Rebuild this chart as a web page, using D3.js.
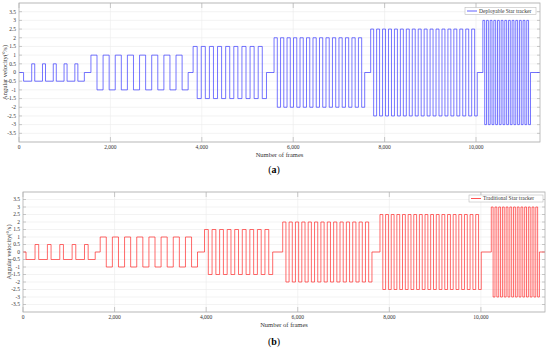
<!DOCTYPE html>
<html>
<head>
<meta charset="utf-8">
<script src="https://cdn.jsdelivr.net/npm/d3@7"></script>
<style>
  body { margin: 0; background: #fff; }
  text { font-family: "Liberation Serif", "Times New Roman", serif; }
</style>
</head>
<body>
<script>
// frames axis and angular velocity ticks
var xMax = 11400,
    xTicks = [0, 2000, 4000, 6000, 8000, 10000],
    yTicks = [-3.5, -3, -2.5, -2, -1.5, -1, -0.5, 0, 0.5, 1, 1.5, 2, 2.5, 3, 3.5];

// step sections, one entry per amplitude level
var amps = [0.5, 1, 1.5, 2, 2.5, 3];

// (a) deployable star tracker
var startA  = [100, 1574, 3810, 5581, 7695, 10150],
    riseA   = [278, 1574, 3810, 5581, 7695, 10150],
    periodA = [236, 266, 178, 142, 130, 80],
    widthA  = [66, 133, 89, 71, 65, 40],
    countA  = [5, 8, 9, 14, 18, 13],
    endA    = [1430, 3701, 5415, 7564, 10027, 11192];

// (b) traditional star tracker
var startB  = [66, 1686, 3964, 5672, 7796, 10227],
    riseB   = [263, 1686, 3964, 5672, 7796, 10227],
    periodB = [270, 266, 165, 139, 123, 81],
    widthB  = [80, 133, 83, 70, 62, 40],
    countB  = [5, 8, 9, 14, 18, 13],
    endB    = [1577, 3811, 5453, 7621, 10008, 11278];

var width = 550, height = 349;

var svg = d3.select("body").append("svg")
    .attr("width", width)
    .attr("height", height);

function buildSeries(start, rise, period, w, count, end) {
  var pts = [{f: 0, v: 0}];
  amps.forEach((a, i) => {
    if (rise[i] > start[i]) pts.push({f: start[i], v: -a});
    for (var k = 0; k < count[i]; k++) {
      var r = rise[i] + k * period[i];
      pts.push({f: r, v: a});
      pts.push({f: r + w[i], v: -a});
    }
    pts.push({f: end[i], v: 0});
  });
  pts.push({f: xMax, v: 0});
  return pts;
}

function panel(opt) {
  var x = d3.scaleLinear().domain([0, xMax]).range([opt.left, opt.right]),
      y = d3.scaleLinear().domain([-4, 4]).range([opt.bottom, opt.top]);

  var g = svg.append("g");

  // grid
  g.selectAll(".gy").data(yTicks.concat([-4, 4])).enter().append("line")
      .attr("x1", opt.left).attr("x2", opt.right)
      .attr("y1", (d) => y(d)).attr("y2", (d) => y(d))
      .attr("stroke", "#ebebeb").attr("stroke-width", 0.6);
  g.selectAll(".gx").data(xTicks.slice(1)).enter().append("line")
      .attr("x1", (d) => x(d)).attr("x2", (d) => x(d))
      .attr("y1", opt.top).attr("y2", opt.bottom)
      .attr("stroke", "#ebebeb").attr("stroke-width", 0.6);

  // inside ticks, all four sides
  var tl = 3;
  g.selectAll(".tyl").data(yTicks).enter().append("line")
      .attr("x1", opt.left).attr("x2", opt.left + tl)
      .attr("y1", (d) => y(d)).attr("y2", (d) => y(d))
      .attr("stroke", "#999").attr("stroke-width", 0.5);
  g.selectAll(".tyr").data(yTicks).enter().append("line")
      .attr("x1", opt.right - tl).attr("x2", opt.right)
      .attr("y1", (d) => y(d)).attr("y2", (d) => y(d))
      .attr("stroke", "#999").attr("stroke-width", 0.5);
  g.selectAll(".txb").data(xTicks).enter().append("line")
      .attr("x1", (d) => x(d)).attr("x2", (d) => x(d))
      .attr("y1", opt.bottom).attr("y2", opt.bottom - 5)
      .attr("stroke", "#999").attr("stroke-width", 0.5);
  g.selectAll(".txt").data(xTicks).enter().append("line")
      .attr("x1", (d) => x(d)).attr("x2", (d) => x(d))
      .attr("y1", opt.top).attr("y2", opt.top + 5)
      .attr("stroke", "#999").attr("stroke-width", 0.5);

  // signal
  var line = d3.line()
      .x((d) => x(d.f))
      .y((d) => y(d.v))
      .curve(d3.curveStepAfter);

  g.append("path")
      .datum(opt.data)
      .attr("fill", "none")
      .attr("stroke", opt.color)
      .attr("stroke-width", 0.7)
      .attr("d", line);

  // box
  g.append("rect")
      .attr("x", opt.left).attr("y", opt.top)
      .attr("width", opt.right - opt.left).attr("height", opt.bottom - opt.top)
      .attr("fill", "none").attr("stroke", "#b0b0b0").attr("stroke-width", 0.8);

  // tick labels
  g.selectAll(".ly").data(yTicks).enter().append("text")
      .attr("x", opt.left - 3)
      .attr("y", (d) => y(d))
      .attr("dy", "0.33em")
      .attr("text-anchor", "end")
      .attr("font-size", 5.5)
      .attr("fill", "#333")
      .text((d) => String(d));
  g.selectAll(".lx").data(xTicks).enter().append("text")
      .attr("x", (d) => x(d))
      .attr("y", opt.bottom + 7)
      .attr("text-anchor", "middle")
      .attr("font-size", 5.5)
      .attr("fill", "#333")
      .text((d) => d3.format(",")(d));

  // axis titles
  g.append("text")
      .attr("x", (opt.left + opt.right) / 2)
      .attr("y", opt.bottom + 15)
      .attr("text-anchor", "middle")
      .attr("font-size", 6.5)
      .attr("fill", "#333")
      .text("Number of frames");
  g.append("text")
      .attr("transform", `translate(${opt.left - 12},${(opt.top + opt.bottom) / 2}) rotate(-90)`)
      .attr("text-anchor", "middle")
      .attr("font-size", 6.5)
      .attr("fill", "#333")
      .text("Angular velocity(°/s)");

  // legend
  var lg = g.append("g").attr("transform", `translate(${opt.legend[0]},${opt.legend[1]})`);
  lg.append("rect")
      .attr("width", opt.legend[2]).attr("height", 7)
      .attr("fill", "#fff").attr("stroke", "#b0b0b0").attr("stroke-width", 0.5);
  lg.append("line")
      .attr("x1", 2).attr("x2", 12).attr("y1", 3.5).attr("y2", 3.5)
      .attr("stroke", opt.color).attr("stroke-width", 0.8);
  lg.append("text")
      .attr("x", 14).attr("y", 3.5).attr("dy", "0.33em")
      .attr("font-size", 5.5)
      .attr("fill", "#333")
      .text(opt.name);

  // panel caption
  var cap = svg.append("text")
      .attr("x", opt.capX).attr("y", opt.capY)
      .attr("text-anchor", "middle")
      .attr("font-size", 10)
      .attr("fill", "#000");
  cap.append("tspan").text("(");
  cap.append("tspan").attr("font-weight", "bold").text(opt.letter);
  cap.append("tspan").text(")");
}

panel({
  left: 19, right: 540, top: 3, bottom: 142,
  data: buildSeries(startA, riseA, periodA, widthA, countA, endA),
  color: "#3a3aff",
  name: "Deployable Star tracker",
  legend: [465, 7.5, 71],
  letter: "a", capX: 274, capY: 173
});

panel({
  left: 23, right: 545, top: 192, bottom: 312,
  data: buildSeries(startB, riseB, periodB, widthB, countB, endB),
  color: "#ff2a2a",
  name: "Traditional Star tracker",
  legend: [469, 195, 74],
  letter: "b", capX: 274, capY: 345
});
</script>
</body>
</html>
